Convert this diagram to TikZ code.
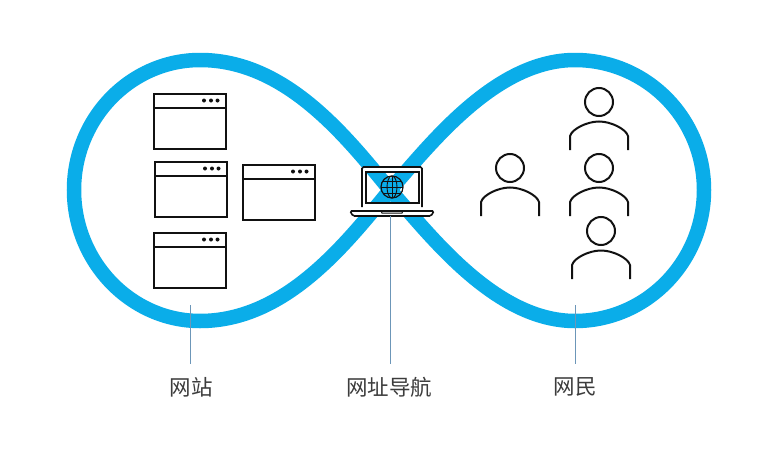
\documentclass[tikz,border=0pt]{standalone}
\usepackage{fontspec}
\setmainfont{Noto Sans CJK SC}
\definecolor{loop}{HTML}{0AADE9}
\definecolor{leader}{HTML}{6C96B8}
\definecolor{ink}{HTML}{111111}
\definecolor{labelgray}{HTML}{3C3C3C}
\tikzset{
  x=1pt,y=-1pt,
  loopline/.style={draw=loop,line width=14.5pt},
  leaderline/.style={draw=leader,line width=0.9pt},
  caption/.style={text=labelgray,font=\fontsize{21.5}{23}\selectfont,inner sep=0pt,anchor=center},
  inkline/.style={draw=ink,line width=2pt},
  pics/webwin/.style={code={
    \draw[inkline] (0,0) rectangle (72,55);
    \draw[inkline] (0,14) -- (72,14);
    \fill[ink] (50,6.5) circle (2) (57,6.5) circle (2) (63.5,6.5) circle (2);
  }},
  pics/person/.style={code={
    \draw[inkline] (0,0) circle (14);
    \draw[inkline] (-29,48) -- (-29,34) .. controls (-27,27) and (-12,19.5) .. (0,19.5) .. controls (12,19.5) and (27,27) .. (29,34) -- (29,48);
  }},
}
\def\loopcurve{(390,190) .. controls (345,135) and (285,60) .. (200,60)
  .. controls (131,60) and (74,118) .. (74,190)
  .. controls (74,262) and (131,321) .. (200,321)
  .. controls (285,321) and (345,245) .. (390,190)
  .. controls (430,145) and (495,60) .. (575,60)
  .. controls (646,60) and (704,118) .. (704,190)
  .. controls (704,262) and (646,321) .. (575,321)
  .. controls (495,321) and (430,235) .. (390,190) -- cycle}
\begin{document}
\begin{tikzpicture}
\useasboundingbox (0,0) rectangle (764,450);
\fill[white] (0,0) rectangle (764,450);
% infinity loop
\draw[loopline] \loopcurve;
% laptop
\fill[white,even odd rule] (362,167) rectangle (422,207) (366,172) rectangle (419,203);
\fill[white] (362,207) rectangle (422,211);
\draw[ink,line width=1.6pt,rounded corners=1.5pt] (362,207) -- (362,167) -- (422,167) -- (422,207);
\draw[ink,line width=1.4pt] (366,172) rectangle (419,203);
\draw[ink,line width=1.6pt,fill=white,rounded corners=1.5pt] (350,211) -- (434,211) -- (431,216) -- (353,216) -- cycle;
\draw[ink,line width=1pt] (381,211) -- (382,213) -- (402,213) -- (403,211);
\coordinate (globe) at (392,187);
\draw[ink,line width=1.2pt] (globe) circle (11);
\draw[ink,line width=0.9pt] (globe) ellipse (5 and 11);
\draw[ink,line width=0.9pt] (381,187) -- (403,187) (383,181) -- (401,181) (383,193) -- (401,193) (392,176) -- (392,198);
% browser windows
\pic at (154,94) {webwin};
\pic at (155,162) {webwin};
\pic at (243,165) {webwin};
\pic at (154,233) {webwin};
% people
\pic at (599,102) {person};
\pic at (599,168) {person};
\pic at (601,231) {person};
\pic at (510,168) {person};
% labels and leaders
\node[caption] (site) at (191,387) {网站};
\node[caption] (nav) at (389,387) {网址导航};
\node[caption] (user) at (575,387) {网民};
\coordinate (siteEnd) at (190,305);
\coordinate (navEnd) at (390,216);
\coordinate (userEnd) at (575,305);
\draw[leaderline] (siteEnd) -- (190,364);
\draw[leaderline] (navEnd) -- (390,364);
\draw[leaderline] (userEnd) -- (575,364);
\end{tikzpicture}
\end{document}
